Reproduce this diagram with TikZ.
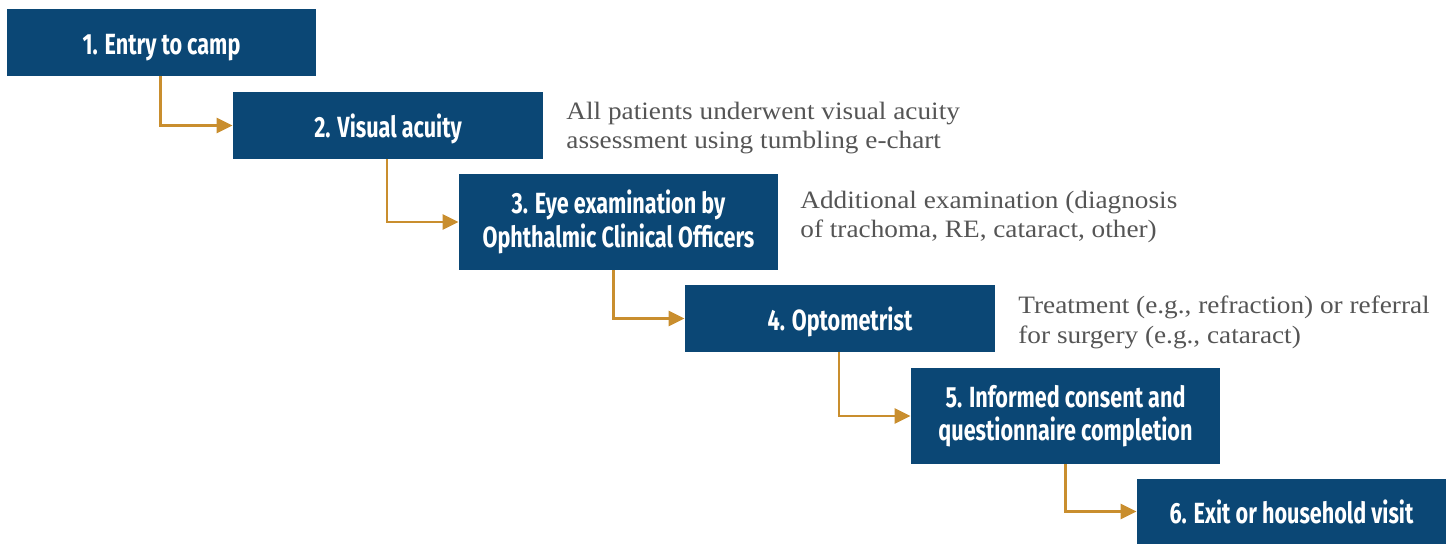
\documentclass[tikz,border=0pt]{standalone}
\usepackage{fontspec}
\setmainfont{Liberation Serif}
\newfontfamily\notefont[FakeStretch=1.09]{Liberation Serif}
\newfontfamily\boxfont[FakeStretch=0.74]{Fira Sans}
\usetikzlibrary{arrows.meta}
\definecolor{boxblue}{HTML}{0B4775}
\definecolor{arrorange}{HTML}{C98E2E}
\definecolor{notegray}{HTML}{555555}
\tikzset{
  px/.style={x=0.5pt,y=-0.5pt},
  stepbox/.style={rectangle, fill=boxblue, text=white, inner sep=0pt,
    font=\boxfont\bfseries\fontsize{14.6}{16.8}\selectfont, align=center},
  oneline/.style={text height=11.8pt, text depth=0pt},
  flow/.style={draw=arrorange, line width=1.4pt,
    -{Triangle[length=8pt,width=7.5pt]}},
  note/.style={anchor=north west, align=left, text=notegray, inner sep=0pt,
    font=\notefont\fontsize{12.5}{14.6}\selectfont}
}
\begin{document}
\begin{tikzpicture}[px]
\useasboundingbox (0,0) rectangle (1450,544);
\node[stepbox, oneline, minimum width=154.5pt, minimum height=33.5pt] (b1) at (161.5,42.5) {1. Entry to camp};
\node[stepbox, oneline, minimum width=155pt, minimum height=33.5pt] (b2) at (388,125.5) {2. Visual acuity};
\node[stepbox, minimum width=159.5pt, minimum height=48pt] (b3) at (618.5,222) {3. Eye examination by\\Ophthalmic Clinical Officers};
\node[stepbox, oneline, minimum width=155pt, minimum height=33.5pt] (b4) at (840,318.5) {4. Optometrist};
\node[stepbox, minimum width=154.5pt, minimum height=48pt] (b5) at (1065.5,416) {5. Informed consent and\\questionnaire completion};
\node[stepbox, oneline, minimum width=154.5pt, minimum height=32.5pt] (b6) at (1291.5,511.5) {6. Exit or household visit};

\node[note] (n2) at (566,102) {All patients underwent visual acuity\\assessment using tumbling e-chart};
\node[note] (n3) at (800,191) {Additional examination (diagnosis\\of trachoma, RE, cataract, other)};
\node[note] (n4) at (1018,296) {Treatment (e.g., refraction) or referral\\for surgery (e.g., cataract)};

\draw[flow] ([xshift=-0.5pt]b1.south) |- (b2.west);
\draw[flow] ([xshift=-0.5pt]b2.south) |- (b3.west);
\draw[flow] ([xshift=-2.5pt]b3.south) |- (b4.west);
\draw[flow] ([xshift=-0.5pt]b4.south) |- (b5.west);
\draw[flow] ([xshift=0pt]b5.south) |- (b6.west);
\end{tikzpicture}
\end{document}
